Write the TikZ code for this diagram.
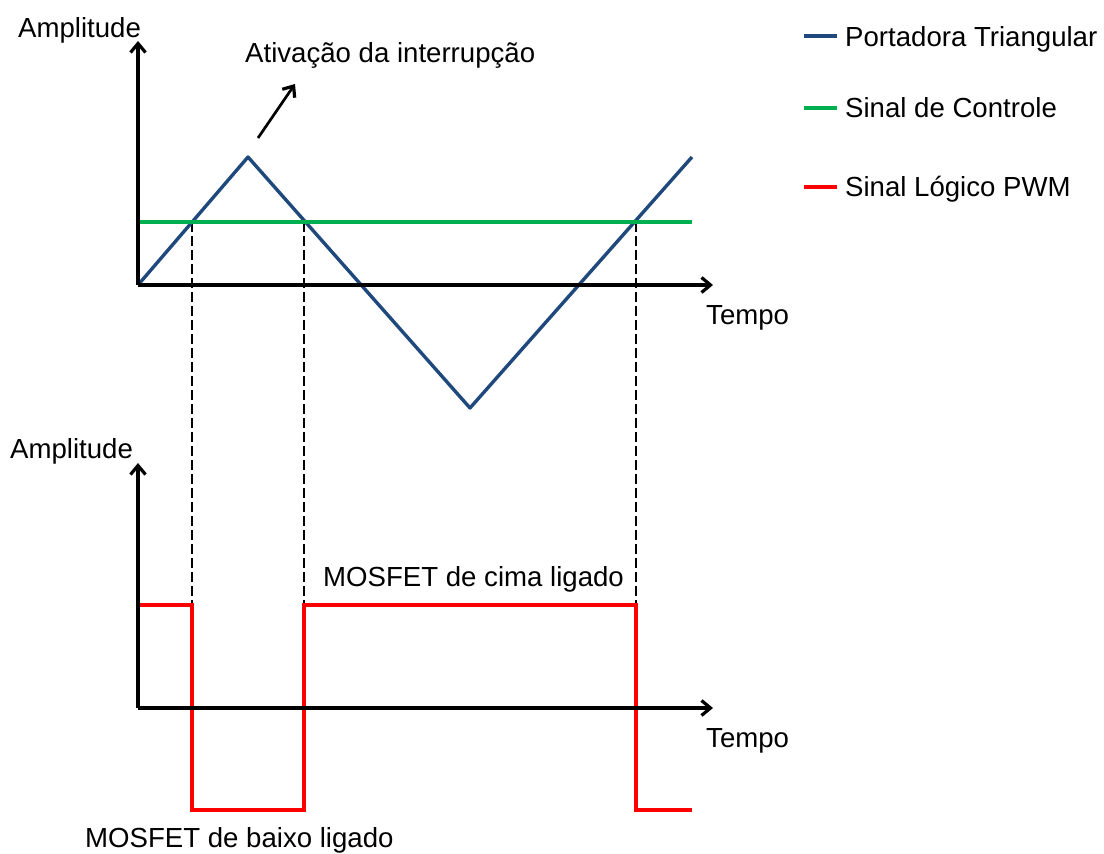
\documentclass[tikz,border=0pt]{standalone}
\usepackage{fontspec}
\setmainfont{Liberation Sans}
\usetikzlibrary{arrows.meta}
\definecolor{carrier}{RGB}{31,73,125}
\definecolor{ctrl}{RGB}{0,176,80}
\definecolor{pwm}{RGB}{255,0,0}
\begin{document}
\begin{tikzpicture}[x=1pt,y=-1pt,
  axis/.style={line width=3.2pt,-{Straight Barb[length=9pt,width=15pt,line width=3.2pt]}},
  lbl/.style={font=\fontsize{27.6}{32}\selectfont,anchor=base west,inner sep=0pt},
  carrierline/.style={carrier,line width=3.4pt,line join=round},
  ctrlline/.style={ctrl,line width=3.2pt},
  pwmline/.style={pwm,line width=3.2pt,line join=miter},
  guide/.style={black,line width=2.6pt,dash pattern=on 10pt off 4pt}]
\useasboundingbox (0,0) rectangle (1104,854);
% coordinates
\coordinate (o1) at (138,285);
\coordinate (yt1) at (138,41);
\coordinate (xt1) at (713,285);
\coordinate (o2) at (138,708);
\coordinate (yt2) at (138,463);
\coordinate (xt2) at (713,708);
\coordinate (p1) at (248,157);
\coordinate (v1) at (470,408);
\coordinate (p2) at (692,157);
\coordinate (c0) at (138,222);
\coordinate (c1) at (692,222);
\coordinate (i1) at (192,222);
\coordinate (i2) at (304,222);
\coordinate (i3) at (636,222);
\coordinate (r0) at (138,605);
\coordinate (r1) at (192,605);
\coordinate (r2) at (192,810);
\coordinate (r3) at (304,810);
\coordinate (r4) at (304,605);
\coordinate (r5) at (636,605);
\coordinate (r6) at (636,810);
\coordinate (r7) at (692,810);
\coordinate (a0) at (258,138);
\coordinate (a1) at (295,84);
% guides
\draw[guide] (i1) -- (r1);
\draw[guide] (i2) -- (r4);
\draw[guide] (i3) -- (r5);
% signals
\draw[carrierline] (o1) -- (p1) -- (v1) -- (p2);
\draw[ctrlline] (c0) -- (c1);
\draw[pwmline] (r0) -- (r1) -- (r2) -- (r3) -- (r4) -- (r5) -- (r6) -- (r7);
% axes
\draw[axis] (o1) -- (yt1);
\draw[axis] (o1) -- (xt1);
\draw[axis] (o2) -- (yt2);
\draw[axis] (o2) -- (xt2);
\draw[axis,line width=2.7pt] (a0) -- (a1);
% labels
\node[lbl] (amp1) at (18,37) {Amplitude};
\node[lbl] (ativ) at (245,62) {Ativação da interrupção};
\node[lbl] (tempo1) at (706,324) {Tempo};
\node[lbl] (amp2) at (10,458) {Amplitude};
\node[lbl] (tempo2) at (706,747) {Tempo};
\node[lbl] (cima) at (323,586) {MOSFET de cima ligado};
\node[lbl] (baixo) at (85,847) {MOSFET de baixo ligado};
% legend
\coordinate (l1a) at (804,36); \coordinate (l1b) at (837,36);
\coordinate (l2a) at (804,108); \coordinate (l2b) at (837,108);
\coordinate (l3a) at (804,187); \coordinate (l3b) at (837,187);
\draw[carrierline] (l1a) -- (l1b);
\draw[ctrlline] (l2a) -- (l2b);
\draw[pwmline] (l3a) -- (l3b);
\node[lbl] (leg1) at (845,46) {Portadora Triangular};
\node[lbl] (leg2) at (845,117) {Sinal de Controle};
\node[lbl] (leg3) at (845,196) {Sinal Lógico PWM};
\end{tikzpicture}
\end{document}
